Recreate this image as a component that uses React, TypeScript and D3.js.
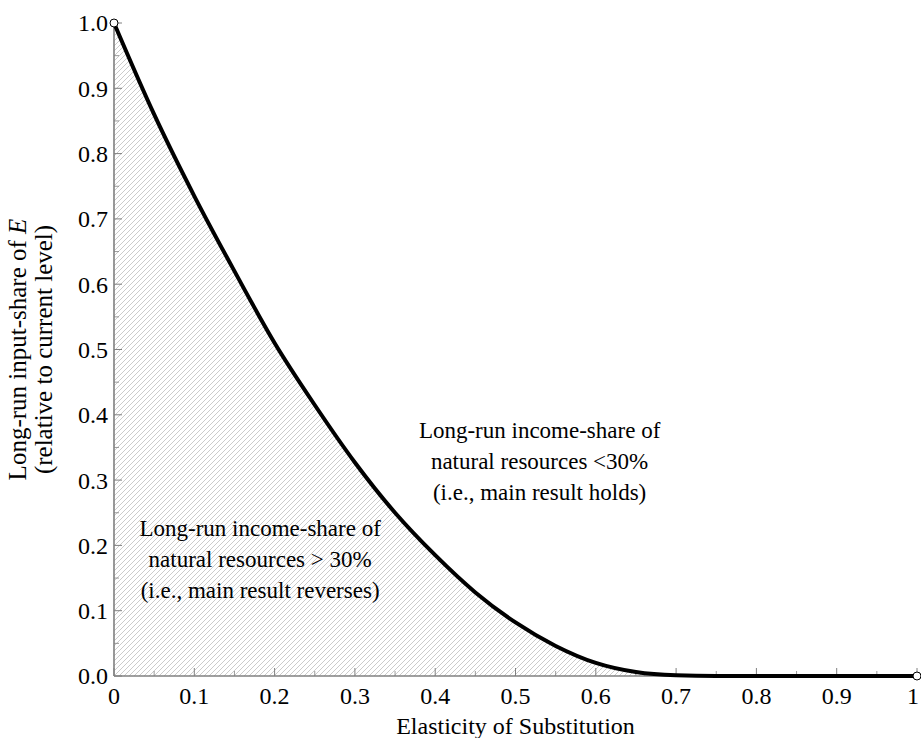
import React from "react";
import * as d3 from "d3";

// elasticity of substitution (x) vs long-run input share of E (y)
const sigma = [0, 0.05, 0.1, 0.15, 0.2, 0.25, 0.3, 0.35, 0.4, 0.45, 0.5, 0.55, 0.6, 0.65, 0.7, 0.75, 0.8, 0.85, 0.9, 0.95, 1];
const share = [1, 0.86, 0.735, 0.62, 0.51, 0.415, 0.327, 0.25, 0.185, 0.128, 0.082, 0.046, 0.02, 0.006, 0.001, 0, 0, 0, 0, 0, 0];

const xTicks = [0, 0.1, 0.2, 0.3, 0.4, 0.5, 0.6, 0.7, 0.8, 0.9, 1];
const xTickLabels = ["0", "0.1", "0.2", "0.3", "0.4", "0.5", "0.6", "0.7", "0.8", "0.9", "1"];
const yTicks = [0, 0.1, 0.2, 0.3, 0.4, 0.5, 0.6, 0.7, 0.8, 0.9, 1];
const yTickLabels = ["0.0", "0.1", "0.2", "0.3", "0.4", "0.5", "0.6", "0.7", "0.8", "0.9", "1.0"];
const minorTicks = [0.05, 0.15, 0.25, 0.35, 0.45, 0.55, 0.65, 0.75, 0.85, 0.95];

const upperText = ["Long-run income-share of", "natural resources <30%", "(i.e., main result holds)"];
const lowerText = ["Long-run income-share of", "natural resources > 30%", "(i.e., main result reverses)"];

const W = 921;
const H = 738;
const serif = { fontFamily: "Liberation Serif, DejaVu Serif, serif" };

export default function App() {
  const x = d3.scaleLinear().domain([0, 1]).range([114, 917]);
  const y = d3.scaleLinear().domain([0, 1]).range([676, 23]);
  const pts: [number, number][] = sigma.map((s, i) => [s, share[i]]);

  const line = d3.line<[number, number]>()
    .x(d => x(d[0]))
    .y(d => y(d[1]))
    .curve(d3.curveMonotoneX);
  const area = d3.area<[number, number]>()
    .x(d => x(d[0]))
    .y0(y(0))
    .y1(d => y(d[1]))
    .curve(d3.curveMonotoneX);

  const axisColor = "#808080";

  return (
    <svg width={W} height={H} style={{ display: "block", position: "absolute", left: 0, top: 0 }}>
      <defs>
        <pattern id="hatch" patternUnits="userSpaceOnUse" width="5" height="5">
          <path d="M0,5 L5,0 M-1,1 L1,-1 M4,6 L6,4" stroke="#a8a8a8" strokeWidth="0.6" />
        </pattern>
      </defs>

      {/* hatched area under the curve */}
      <path d={area(pts.filter(p => p[0] <= 0.75)) || ""} fill="url(#hatch)" stroke="none" />

      {/* axes */}
      <line x1={x(0)} x2={x(0)} y1={y(0)} y2={y(1)} stroke={axisColor} strokeWidth={1.6} />
      <line x1={x(0)} x2={x(1)} y1={y(0)} y2={y(0)} stroke={axisColor} strokeWidth={1.6} />

      {xTicks.map(t => (
        <line key={"xt" + t} x1={x(t)} x2={x(t)} y1={y(0)} y2={y(0) - 8} stroke={axisColor} strokeWidth={1} />
      ))}
      {minorTicks.map(t => (
        <line key={"xm" + t} x1={x(t)} x2={x(t)} y1={y(0)} y2={y(0) - 5} stroke={axisColor} strokeWidth={0.8} />
      ))}
      {yTicks.map(t => (
        <line key={"yt" + t} x1={x(0)} x2={x(0) + 8} y1={y(t)} y2={y(t)} stroke={axisColor} strokeWidth={1} />
      ))}
      {minorTicks.map(t => (
        <line key={"ym" + t} x1={x(0)} x2={x(0) + 5} y1={y(t)} y2={y(t)} stroke={axisColor} strokeWidth={0.8} />
      ))}

      {xTicks.map((t, i) => (
        <text key={"xl" + t} x={t === 1 ? x(t) - 4 : x(t)} y={y(0) + 28} textAnchor="middle" fontSize={24} fill="#000" style={serif}>
          {xTickLabels[i]}
        </text>
      ))}
      {yTicks.map((t, i) => (
        <text key={"yl" + t} x={x(0) - 6} y={y(t)} dy="0.35em" textAnchor="end" fontSize={24} fill="#000" style={serif}>
          {yTickLabels[i]}
        </text>
      ))}

      {/* curve */}
      <path d={line(pts) || ""} fill="none" stroke="#000" strokeWidth={4} />

      {/* end markers */}
      <circle cx={x(0)} cy={y(1)} r={4} fill="#fff" stroke="#000" strokeWidth={1} />
      <circle cx={x(1)} cy={y(0)} r={4} fill="#fff" stroke="#000" strokeWidth={1} />

      {/* annotations */}
      {upperText.map((s, i) => (
        <text key={"u" + i} x={x(0.53)} y={y(0.365) + i * 31} textAnchor="middle" fontSize={23} fill="#000" style={serif}>{s}</text>
      ))}
      {lowerText.map((s, i) => (
        <text key={"l" + i} x={x(0.182)} y={y(0.215) + i * 31} textAnchor="middle" fontSize={23} fill="#000" style={serif}>{s}</text>
      ))}

      {/* axis labels */}
      <text x={x(0.5)} y={H - 4} textAnchor="middle" fontSize={24} fill="#000" style={serif}>Elasticity of Substitution</text>
      <g transform={`translate(26,${y(0.5)}) rotate(-90)`}>
        <text x={0} y={0} textAnchor="middle" fontSize={25} fill="#000" style={serif}>
          Long-run input-share of <tspan fontStyle="italic">E</tspan>
        </text>
        <text x={0} y={26} textAnchor="middle" fontSize={25} fill="#000" style={serif}>(relative to current level)</text>
      </g>
    </svg>
  );
}
